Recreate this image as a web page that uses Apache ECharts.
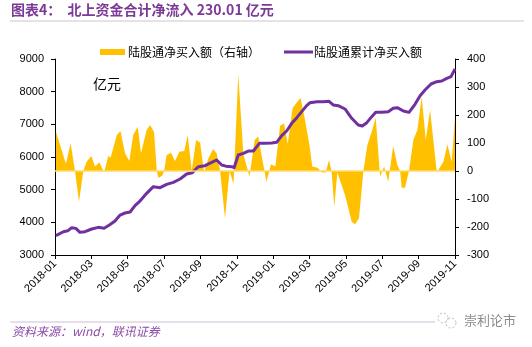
<!DOCTYPE html>
<html>
<head>
<meta charset="utf-8">
<script src="https://cdn.jsdelivr.net/npm/echarts@6/dist/echarts.min.js"></script>
<style>
  html, body { margin: 0; padding: 0; background: #fff; }
  #chart { width: 532px; height: 347px; }
</style>
</head>
<body>
<div id="chart"></div>
<script>
// Time is measured in months since 2018-01.
const tickLabels = ['2018-01', '2018-03', '2018-05', '2018-07', '2018-09', '2018-11',
                    '2019-01', '2019-03', '2019-05', '2019-07', '2019-09', '2019-11'];

// 陆股通净买入额 (亿元, right axis)
const flowMonths = [0.05, 0.6, 0.86, 1.1, 1.32, 1.56, 1.74, 2.0, 2.2, 2.44, 2.7, 2.93, 3.06, 3.4, 3.6,
  3.85, 4.09, 4.3, 4.55, 4.73, 5.04, 5.23, 5.45, 5.6, 5.68, 5.9, 6.0, 6.14, 6.38, 6.6, 6.84, 7.11,
  7.3, 7.52, 7.76, 7.98, 8.2, 8.43, 8.7, 8.89, 9.08, 9.35, 9.6, 9.82, 10.08, 10.36, 10.7, 10.98,
  11.18, 11.36, 11.63, 11.88, 12.12, 12.38, 12.6, 12.8, 13.07, 13.3, 13.5, 13.7, 14.0, 14.15, 14.43,
  14.7, 14.89, 15.07, 15.21, 15.36, 15.53, 15.95, 16.32, 16.5, 16.72, 16.96, 17.18, 17.42, 17.64,
  17.88, 18.1, 18.33, 18.6, 18.83, 18.98, 19.07, 19.25, 19.47, 19.71, 19.93, 20.17, 20.39, 20.63,
  21.0, 21.36, 21.58, 21.82, 22.0];
const flowValues = [140, 26, 99, 0, -110, 0, 33, 54, 16, 31, -5, 54, 48, 129, 143,
  63, 36, 129, 158, 63, 146, 164, 138, 0, -24, -17, 0, 57, 65, 36, 69, 71,
  129, 2, 111, 102, -5, 45, 79, 63, 0, -169, 0, -46, 345, 60, -20, 111,
  123, 57, -38, 24, 16, 162, 170, 97, 226, 245, 262, 200, 90, 16, 12,
  -5, -5, 39, 0, -128, -5, -86, -181, -190, -169, 0, 93, 140, 190,
  -20, 16, -38, 90, 21, 0, -60, -60, 0, 111, 146, 265, 111, 218,
  -5, 33, 95, 33, 194];

// 陆股通累计净买入额 (亿元, left axis)
const totalMonths = [0.05, 0.46, 0.7, 0.92, 1.15, 1.37, 1.65, 2.02, 2.38, 2.7, 2.99, 3.3, 3.58, 3.85,
  4.13, 4.4, 4.64, 4.77, 5.04, 5.41, 5.78, 6.14, 6.51, 6.88, 7.24, 7.55, 7.88, 8.25, 8.62, 8.89,
  9.17, 9.4, 9.72, 9.85, 10.08, 10.36, 10.63, 10.91, 11.24, 11.55, 11.92, 12.19, 12.47, 12.74,
  13.02, 13.3, 13.57, 13.84, 14.03, 14.4, 14.76, 15.07, 15.3, 15.58, 15.95, 16.32, 16.68, 16.9,
  17.15, 17.42, 17.64, 17.97, 18.33, 18.6, 18.83, 19.16, 19.47, 19.8, 20.08, 20.35, 20.68, 21.0,
  21.27, 21.55, 21.78, 22.0];
const totalValues = [3591, 3713, 3740, 3836, 3815, 3694, 3713, 3796, 3847, 3820, 3918, 4041, 4224, 4286,
  4316, 4510, 4632, 4714, 4888, 5092, 5061, 5163, 5224, 5326, 5479, 5520, 5703, 5734, 5836, 5908,
  5755, 5720, 5703, 5673, 6061, 6112, 6183, 6183, 6418, 6418, 6428, 6449, 6653, 6796,
  7031, 7204, 7388, 7572, 7663, 7694, 7694, 7704, 7592, 7572, 7470, 7184, 6980, 6949,
  7051, 7235, 7367, 7367, 7388, 7490, 7510, 7408, 7367, 7612, 7878, 8051, 8235, 8306,
  8327, 8408, 8459, 8693];

const flowName = '陆股通净买入额（右轴）';
const totalName = '陆股通累计净买入额';
const purple = '#7030A0';
const gold = '#FFC000';
const cjk = '"Noto Sans CJK SC", "Noto Sans", sans-serif';
const num = '"Liberation Sans", Arial, sans-serif';

const pair = (xs, ys) => xs.map((x, i) => [x, ys[i]]);

const chart = echarts.init(document.getElementById('chart'));
chart.setOption({
  animation: false,
  backgroundColor: '#fff',
  grid: { left: 55, right: 77, top: 59, bottom: 92, containLabel: false },
  legend: [
    {
      data: [{ name: flowName, icon: 'rect' }],
      left: 95, top: 41, itemWidth: 25, itemHeight: 6, itemGap: 4,
      textStyle: { fontFamily: cjk, fontSize: 12, color: '#000', padding: [0, 0, 0, -2] }
    },
    {
      data: [{ name: totalName, icon: 'rect' }],
      left: 279, top: 41, itemWidth: 29, itemHeight: 3,
      textStyle: { fontFamily: cjk, fontSize: 12, color: '#000', padding: [0, 0, 0, -4] }
    }
  ],
  xAxis: {
    type: 'value', min: 0, max: 22, interval: 2,
    axisLine: { onZero: false, lineStyle: { color: '#000', width: 1 } },
    axisTick: { show: true, length: 4, lineStyle: { color: '#000' } },
    splitLine: { show: false },
    axisLabel: {
      rotate: 45, fontSize: 11, fontFamily: num, color: '#000', margin: 7,
      formatter: v => tickLabels[Math.round(v / 2)] || ''
    }
  },
  yAxis: [
    {
      type: 'value', min: 3000, max: 9000, interval: 1000, position: 'left',
      axisLine: { show: true, lineStyle: { color: '#000' } },
      axisTick: { show: true, length: 4, lineStyle: { color: '#000' } },
      splitLine: { show: false },
      axisLabel: { fontSize: 11, fontFamily: num, color: '#000', margin: 11,
                   formatter: v => String(v) }
    },
    {
      type: 'value', min: -300, max: 400, interval: 100, position: 'right',
      axisLine: { show: true, lineStyle: { color: '#000' } },
      axisTick: { show: true, length: 4, lineStyle: { color: '#000' } },
      splitLine: { show: false },
      axisLabel: { fontSize: 11, fontFamily: num, color: '#000', margin: 12,
                   formatter: v => String(v) }
    }
  ],
  series: [
    {
      name: flowName, type: 'line', yAxisIndex: 1,
      data: pair(flowMonths, flowValues),
      showSymbol: false, smooth: false,
      itemStyle: { color: gold },
      lineStyle: { width: 0, color: gold },
      areaStyle: { color: gold, opacity: 1, origin: 0 },
      markLine: {
        silent: true, symbol: 'none', label: { show: false },
        lineStyle: { color: '#FFDB70', width: 1.5, type: 'solid' },
        data: [{ yAxis: 0 }]
      },
      z: 2
    },
    {
      name: totalName, type: 'line', yAxisIndex: 0,
      data: pair(totalMonths, totalValues),
      showSymbol: false, smooth: false,
      itemStyle: { color: purple },
      lineStyle: { width: 3, color: purple, join: 'round' },
      z: 3
    }
  ],
  graphic: [
    {
      type: 'text', left: 11, top: 3,
      style: { text: '图表4：  北上资金合计净流入 230.01 亿元', fill: '#7B3A96',
               font: 'bold 14px ' + cjk }
    },
    {
      type: 'line', shape: { x1: 10, y1: 21, x2: 524, y2: 21 },
      style: { stroke: '#C8C8C8', lineWidth: 1 }
    },
    {
      type: 'text', left: 93, top: 77,
      style: { text: '亿元', fill: '#000', font: '14px ' + cjk }
    },
    {
      type: 'line', shape: { x1: 10, y1: 322, x2: 435, y2: 322 },
      style: { stroke: '#CDBFD4', lineWidth: 1 }
    },
    {
      type: 'text', left: 12, top: 325,
      style: { text: '资料来源：wind，联讯证券', fill: '#8B4AA8',
               font: 'italic 12px ' + cjk }
    },
    {
      type: 'circle', shape: { cx: 443, cy: 318, r: 5 },
      style: { fill: 'none', stroke: '#BBBBBB', lineWidth: 1, lineDash: [2, 2] }
    },
    {
      type: 'circle', shape: { cx: 451, cy: 323, r: 5 },
      style: { fill: 'none', stroke: '#BBBBBB', lineWidth: 1, lineDash: [2, 2] }
    },
    {
      type: 'text', left: 464, top: 314,
      style: { text: '崇利论市', fill: '#8A8A8A', font: '13px ' + cjk }
    }
  ]
});
</script>
</body>
</html>
